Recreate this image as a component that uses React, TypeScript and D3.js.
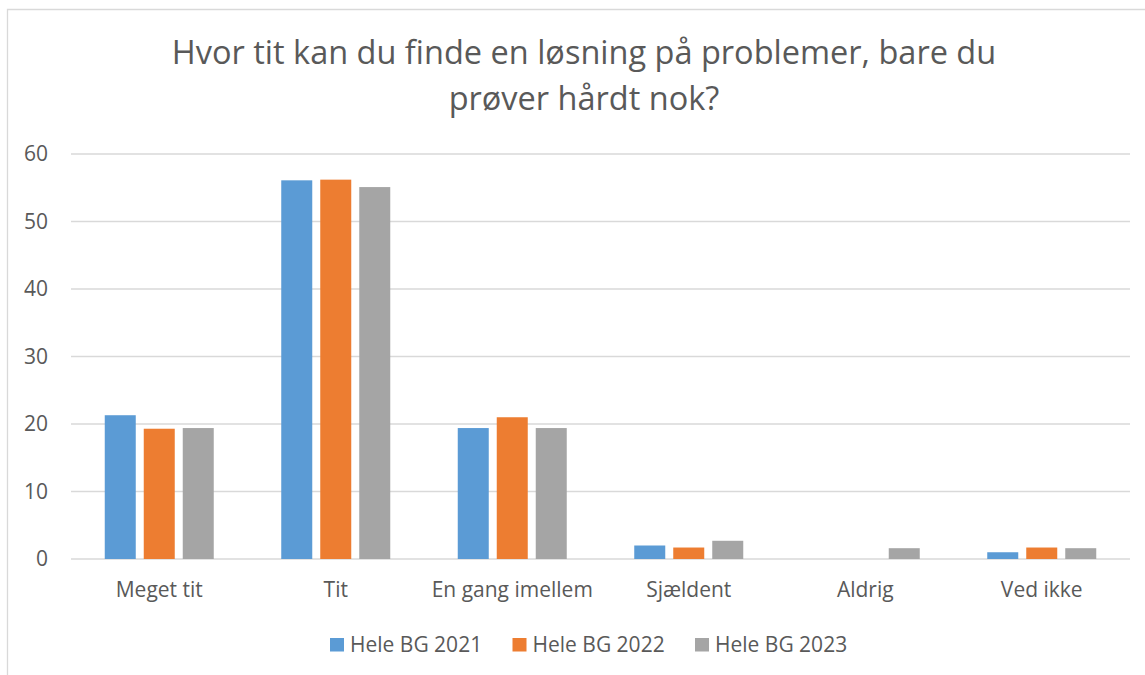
import React, { useEffect, useRef } from "react";
import * as d3 from "d3";

const categories = ["Meget tit", "Tit", "En gang imellem", "Sjældent", "Aldrig", "Ved ikke"];
const seriesNames = ["Hele BG 2021", "Hele BG 2022", "Hele BG 2023"];
const bg2021 = [21.3, 56.1, 19.4, 2.0, 0, 1.0];
const bg2022 = [19.3, 56.2, 21.0, 1.7, 0, 1.7];
const bg2023 = [19.4, 55.1, 19.4, 2.7, 1.6, 1.6];
const yTicks = [0, 10, 20, 30, 40, 50, 60];
const titleLines = ["Hvor tit kan du finde en løsning på problemer, bare du", "prøver hårdt nok?"];
const colors = ["#5B9BD5", "#ED7D31", "#A5A5A5"];

const App: React.FC = () => {
  const svgRef = useRef<SVGSVGElement | null>(null);

  useEffect(() => {
    if (!svgRef.current) return;

    const width = 1145;
    const height = 675;
    const margin = { top: 154, right: 15, bottom: 116, left: 71 };
    const font = "'Open Sans', sans-serif";
    const textColor = "#595959";

    d3.select(svgRef.current).selectAll("*").remove();
    const svg = d3
      .select(svgRef.current)
      .attr("width", width)
      .attr("height", height)
      .style("font-family", font);

    svg.append("rect").attr("width", width).attr("height", height).attr("fill", "white");

    // chart area border (right/bottom run off the picture)
    svg
      .append("path")
      .attr("d", `M7.5,${height} V9.5 H${width}`)
      .attr("fill", "none")
      .attr("stroke", "#d9d9d9")
      .attr("stroke-width", 1.3);

    const series = [bg2021, bg2022, bg2023];

    const x0 = d3
      .scaleBand()
      .domain(categories)
      .range([margin.left, width - margin.right])
      .padding(0);

    const groupW = 109;
    const x1 = d3
      .scaleBand()
      .domain(seriesNames)
      .range([(x0.bandwidth() - groupW) / 2, (x0.bandwidth() + groupW) / 2])
      .paddingInner(0.205);

    const y = d3
      .scaleLinear()
      .domain([0, 60])
      .range([height - margin.bottom, margin.top]);

    // gridlines
    svg
      .append("g")
      .selectAll("line")
      .data(yTicks)
      .enter()
      .append("line")
      .attr("x1", margin.left)
      .attr("x2", width - margin.right)
      .attr("y1", (d) => y(d))
      .attr("y2", (d) => y(d))
      .attr("stroke", "#d9d9d9")
      .attr("stroke-width", 1.3);

    // y labels
    svg
      .append("g")
      .selectAll("text")
      .data(yTicks)
      .enter()
      .append("text")
      .attr("x", 48)
      .attr("y", (d) => y(d))
      .attr("dy", "0.35em")
      .attr("text-anchor", "end")
      .attr("fill", textColor)
      .style("font-size", "21px")
      .text((d) => d);

    // bars
    series.forEach((vals, si) => {
      svg
        .append("g")
        .selectAll("rect")
        .data(vals)
        .enter()
        .append("rect")
        .attr("x", (_, i) => x0(categories[i])! + x1(seriesNames[si])!)
        .attr("y", (d) => y(d))
        .attr("width", x1.bandwidth())
        .attr("height", (d) => y(0) - y(d))
        .attr("fill", colors[si]);
    });

    // category labels
    svg
      .append("g")
      .selectAll("text")
      .data(categories)
      .enter()
      .append("text")
      .attr("x", (d) => x0(d)! + x0.bandwidth() / 2)
      .attr("y", 597)
      .attr("text-anchor", "middle")
      .attr("fill", textColor)
      .style("font-size", "21px")
      .text((d) => d);

    // title
    svg
      .append("g")
      .selectAll("text")
      .data(titleLines)
      .enter()
      .append("text")
      .attr("x", 584)
      .attr("y", (_, i) => 64 + i * 46)
      .attr("text-anchor", "middle")
      .attr("fill", textColor)
      .style("font-size", "32.5px")
      .text((d) => d);

    // legend
    const legendX = [330, 512.5, 695];
    const legend = svg
      .append("g")
      .selectAll("g")
      .data(seriesNames)
      .enter()
      .append("g")
      .attr("transform", (_, i) => `translate(${legendX[i]}, 638)`);
    legend
      .append("rect")
      .attr("width", 14)
      .attr("height", 13.5)
      .attr("fill", (_, i) => colors[i]);
    legend
      .append("text")
      .attr("x", 20)
      .attr("y", 13.5)
      .attr("fill", textColor)
      .style("font-size", "21px")
      .text((d) => d);
  }, []);

  return (
    <div style={{ position: "fixed", left: 0, top: 0 }}>
      <svg ref={svgRef} style={{ display: "block" }}></svg>
    </div>
  );
};

export default App;
